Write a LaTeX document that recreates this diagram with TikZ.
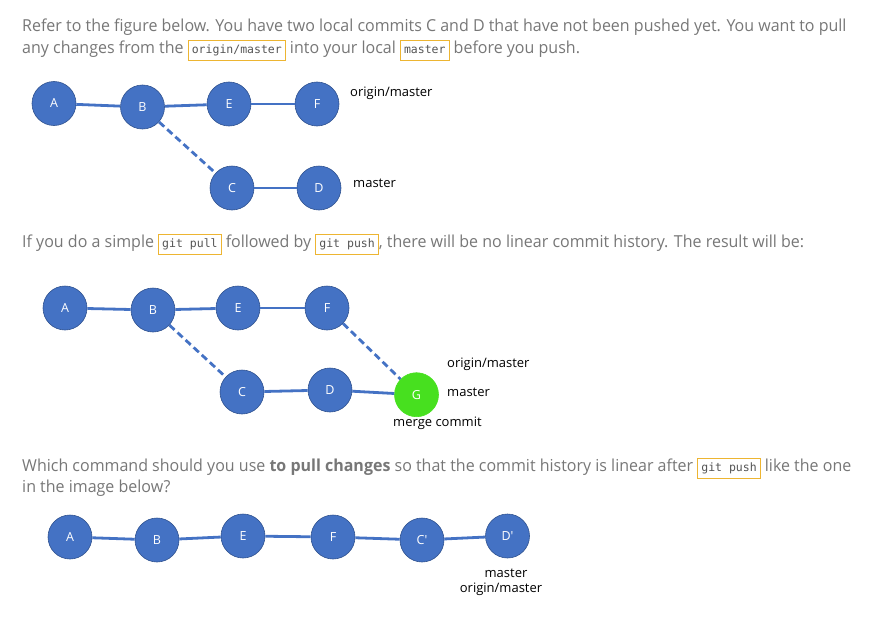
\documentclass[tikz,border=0pt]{standalone}
\usepackage{fontspec}
\setmainfont[FakeStretch=0.97]{Open Sans}
\newfontfamily\labelfont{Open Sans}
\setmonofont{DejaVu Sans Mono}
\usetikzlibrary{positioning}

\definecolor{commitblue}{HTML}{4472C4}
\definecolor{commitedge}{HTML}{2F528F}
\definecolor{mergegreen}{HTML}{47E01F}
\definecolor{prosegray}{HTML}{777777}
\definecolor{codeyellow}{HTML}{EDB532}
\definecolor{codegray}{HTML}{555555}
\newcommand{\codebox}[1]{{\setlength{\fboxsep}{3pt}\setlength{\fboxrule}{1pt}%
  \fcolorbox{codeyellow}{white}{\color{codegray}\ttfamily\fontsize{11.5}{13}\selectfont\strut #1}}}

\begin{document}
\begin{tikzpicture}[x=1pt, y=-1pt,
	commit/.style={circle, fill=commitblue, draw=commitedge, line width=0.6pt, minimum size=44pt, inner sep=0pt, text=white, font=\labelfont\fontsize{12.5}{14}\selectfont},
	merge/.style={commit, fill=mergegreen, draw=mergegreen},
	link/.style={commitblue, line width=2.8pt},
	branch/.style={link, dash pattern=on 7pt off 4pt},
	ref/.style={inner sep=0pt, text=black, font=\labelfont\fontsize{13}{15}\selectfont},
	prose/.style={anchor=base west, inner sep=0pt, align=left, text=prosegray, font=\fontsize{16.5}{21.5}\selectfont}]
				\useasboundingbox (0, 0) rectangle (890, 618);

				% question text (base = last line)
				\node[prose] (intro) at (22, 53.2) {Refer to the figure below. You have two local commits C and D that have not been pushed yet. You want to pull\\any changes from the \codebox{origin/master} into your local \codebox{master} before you push.};
				\node[prose] (result) at (22, 247) {If you do a simple \codebox{git pull} followed by \codebox{git push}, there will be no linear commit history. The result will be:};
				\node[prose] (question) at (22, 492.5) {Which command should you use \textbf{to pull changes} so that the commit history is linear after \codebox{git push} like the one\\in the image below?};

				% before the pull
				\node[commit] (a1) at (54, 103.5) {A};
				\node[commit] (b1) at (142.5, 107) {B};
				\node[commit] (e1) at (229, 104) {E};
				\node[commit] (f1) at (317, 104) {F};
				\node[commit] (c1) at (232, 188) {C};
				\node[commit] (d1) at (319, 188) {D};
				\node[ref, anchor=base west] (origin1) at (350, 96) {origin/master};
				\node[ref, anchor=base west] (master1) at (353, 187) {master};

				\draw [link] (a1) to (b1);
				\draw [link] (b1) to (e1);
				\draw [link] (e1) to (f1);
				\draw [branch] (b1) to (c1);
				\draw [link] (c1) to (d1);

				% after pull and push
				\node[commit] (a2) at (65, 308) {A};
				\node[commit] (b2) at (153, 310) {B};
				\node[commit] (e2) at (238, 308) {E};
				\node[commit] (f2) at (327, 308) {F};
				\node[commit] (c2) at (242, 392) {C};
				\node[commit] (d2) at (330, 390) {D};
				\node[merge] (g2) at (416.5, 394.7) {G};
				\node[ref, anchor=base west] (origin2) at (447, 367) {origin/master};
				\node[ref, anchor=base west] (master2) at (447, 396) {master};
				\node[ref, anchor=base west] (mergelabel) at (393, 426) {merge commit};

				\draw [link] (a2) to (b2);
				\draw [link] (b2) to (e2);
				\draw [link] (e2) to (f2);
				\draw [branch] (b2) to (c2);
				\draw [link] (c2) to (d2);
				\draw [link] (d2) to (g2);
				\draw [branch] (f2) to (g2);

				% linear history
				\node[commit] (a3) at (70, 537) {A};
				\node[commit] (b3) at (157, 540) {B};
				\node[commit] (e3) at (243, 536) {E};
				\node[commit] (f3) at (333, 537) {F};
				\node[commit] (c3) at (422, 540) {C'};
				\node[commit] (d3) at (507.5, 536) {D'};
				\node[ref, anchor=base] (master3) at (506, 577) {master};
				\node[ref, anchor=base] (origin3) at (501, 592) {origin/master};

				\draw [link] (a3) to (b3);
				\draw [link] (b3) to (e3);
				\draw [link] (e3) to (f3);
				\draw [link] (f3) to (c3);
				\draw [link] (c3) to (d3);
		\end{tikzpicture}
\end{document}
